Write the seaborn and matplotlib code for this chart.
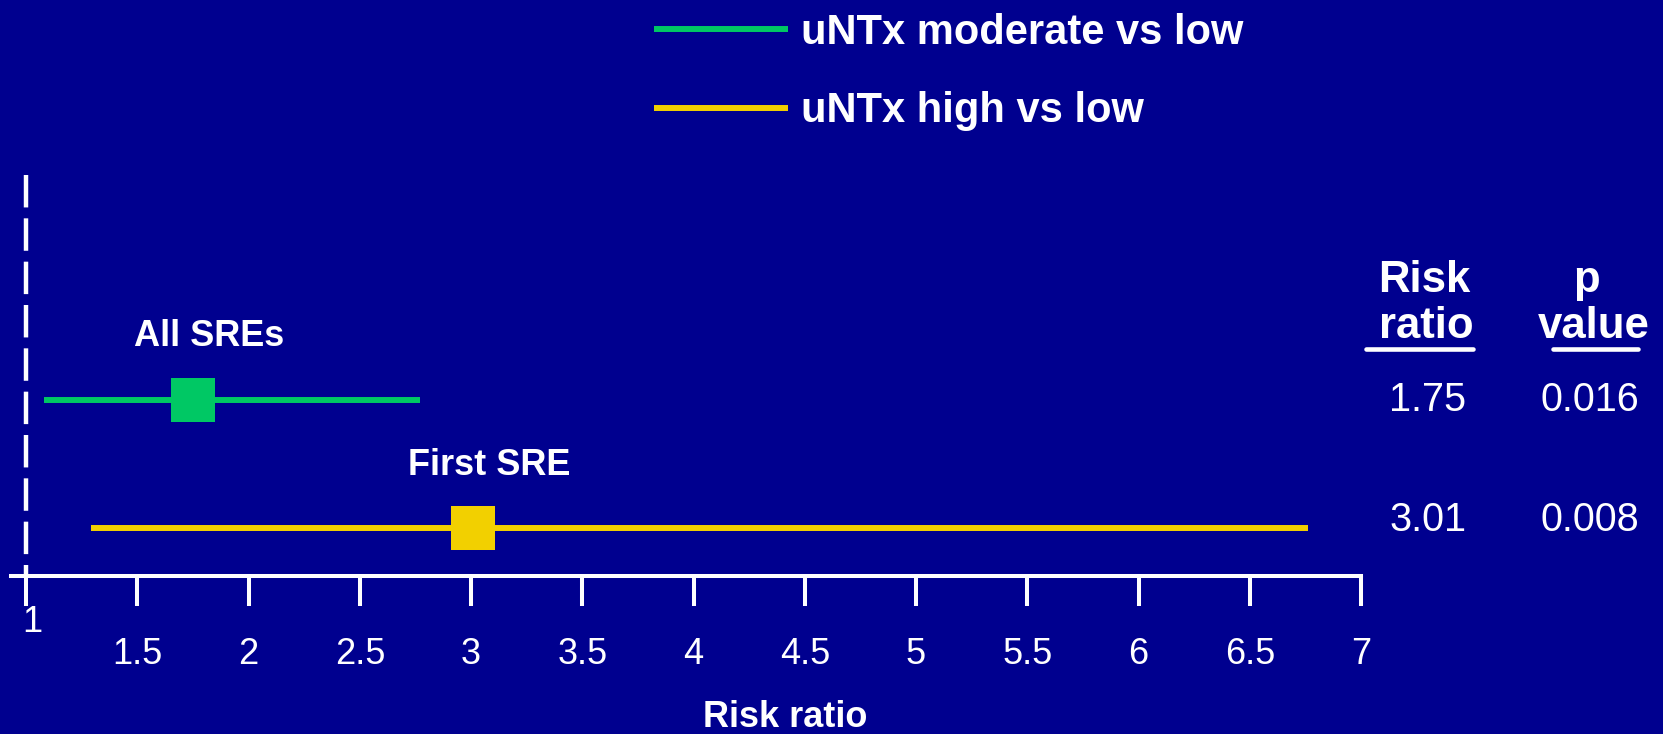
import matplotlib
matplotlib.use("Agg")
import matplotlib.pyplot as plt
import pandas as pd
import seaborn as sns
from matplotlib.lines import Line2D
from matplotlib.transforms import ScaledTranslation

# Forest plot data: risk ratios with 95% CI by uNTx level
comparisons = ["uNTx moderate vs low", "uNTx high vs low"]
endpoints = ["All SREs", "First SRE"]
risk_ratios = [1.75, 3.01]
ci_lower = [1.08, 1.29]
ci_upper = [2.77, 6.76]
p_values = ["0.016", "0.008"]
x_ticks = [1, 1.5, 2, 2.5, 3, 3.5, 4, 4.5, 5, 5.5, 6, 6.5, 7]
x_tick_labels = ["1", "1.5", "2", "2.5", "3", "3.5", "4", "4.5", "5", "5.5", "6", "6.5", "7"]

BG = "#00008F"
WHITE = "white"
palette = {comparisons[0]: "#00C864", comparisons[1]: "#F2D000"}

sns.set_theme(style="white")
plt.rcParams["font.family"] = ["Liberation Sans", "DejaVu Sans"]

W, H = 1663, 734


def fx(px):
    return px / W


def fy(py):
    return 1 - py / H


fig = plt.figure(figsize=(W / 100, H / 100), dpi=100, facecolor=BG)
ax = fig.add_axes([fx(10.6), fy(576), (1361 - 10.6) / W, 401 / H])
ax.set_facecolor(BG)

rows = list(range(len(comparisons)))
points = pd.DataFrame({"comparison": comparisons, "row": rows, "rr": risk_ratios})
intervals = pd.DataFrame({
    "comparison": comparisons * 2,
    "row": rows * 2,
    "bound": ci_lower + ci_upper,
})

sns.lineplot(data=intervals, x="bound", y="row", hue="comparison",
             palette=palette, estimator=None, lw=4.3,
             solid_capstyle="butt", ax=ax)
sns.scatterplot(data=points, x="rr", y="row", hue="comparison",
                palette=palette, marker="s", s=1000, linewidth=0,
                legend=False, zorder=3, ax=ax)

# reference line at RR = 1
ax.plot([1, 1], [1, 0], transform=ax.get_xaxis_transform(), color=WHITE,
        lw=3.2, dashes=(7.3, 2.45), dash_capstyle="butt", clip_on=False)

ax.set_xlim(0.93, 7.0)
ax.set_ylim(1.375, -1.758)
ax.set_yticks([])
ax.set_ylabel("")

ax.set_xticks(x_ticks, x_tick_labels)
ax.tick_params(axis="x", bottom=True, colors=WHITE, length=21.5, width=2.9,
               direction="out", pad=22.7, labelsize=26)

for side in ["left", "top", "right"]:
    ax.spines[side].set_visible(False)
ax.spines["bottom"].set_color(WHITE)
ax.spines["bottom"].set_linewidth(2.9)

ax.set_xlabel("Risk ratio", color=WHITE, fontsize=26, fontweight="bold")
ax.xaxis.set_label_coords(0.5735, -0.3765)
ax.xaxis.label.set_verticalalignment("baseline")

# the "1" label sits just under its tick, nudged right
first_tick = ax.xaxis.get_major_ticks()[0]
first_tick.set_pad(-0.3)
first_tick.label1.set_transform(first_tick.label1.get_transform()
                                + ScaledTranslation(4.6 / 72, 0, fig.dpi_scale_trans))

# endpoint labels above each estimate
for name, rr, row, dy in zip(endpoints, risk_ratios, rows, [39, 38]):
    ax.annotate(name, xy=(rr, row), xytext=(11.5, dy), textcoords="offset points",
                ha="center", va="baseline", color=WHITE, fontsize=26,
                fontweight="bold")

handles, labels = ax.get_legend_handles_labels()
leg = ax.legend(handles, labels, loc="center left",
                bbox_to_anchor=(fx(654), fy(72)), bbox_transform=fig.transFigure,
                frameon=False, prop={"size": 30, "weight": "bold"},
                handlelength=3.22, handletextpad=0.31, labelspacing=0.92,
                borderpad=0, borderaxespad=0, labelcolor=WHITE)
for line in leg.get_lines():
    line.set_linewidth(4.3)
    line.set_solid_capstyle("butt")

# side table: risk ratio and p value
head = dict(ha="center", va="baseline", color=WHITE, fontsize=31.5, fontweight="bold")
fig.text(fx(1424), fy(292), "Risk", **head)
fig.text(fx(1426), fy(338), "ratio", **head)
fig.text(fx(1586), fy(292), "p", **head)
fig.text(fx(1594), fy(338), "value", **head)
for x0, x1 in [(1366, 1473), (1553, 1638)]:
    fig.add_artist(Line2D([fx(x0), fx(x1)], [fy(349), fy(349)], color=WHITE,
                          lw=3.3, transform=fig.transFigure))

cell = dict(ha="center", va="baseline", color=WHITE, fontsize=28.5)
for rr, p, base in zip(risk_ratios, p_values, [411, 531]):
    fig.text(fx(1428), fy(base), f"{rr:.2f}", **cell)
    fig.text(fx(1590), fy(base), p, **cell)

fig.savefig("out.png", dpi=100, facecolor=BG)
